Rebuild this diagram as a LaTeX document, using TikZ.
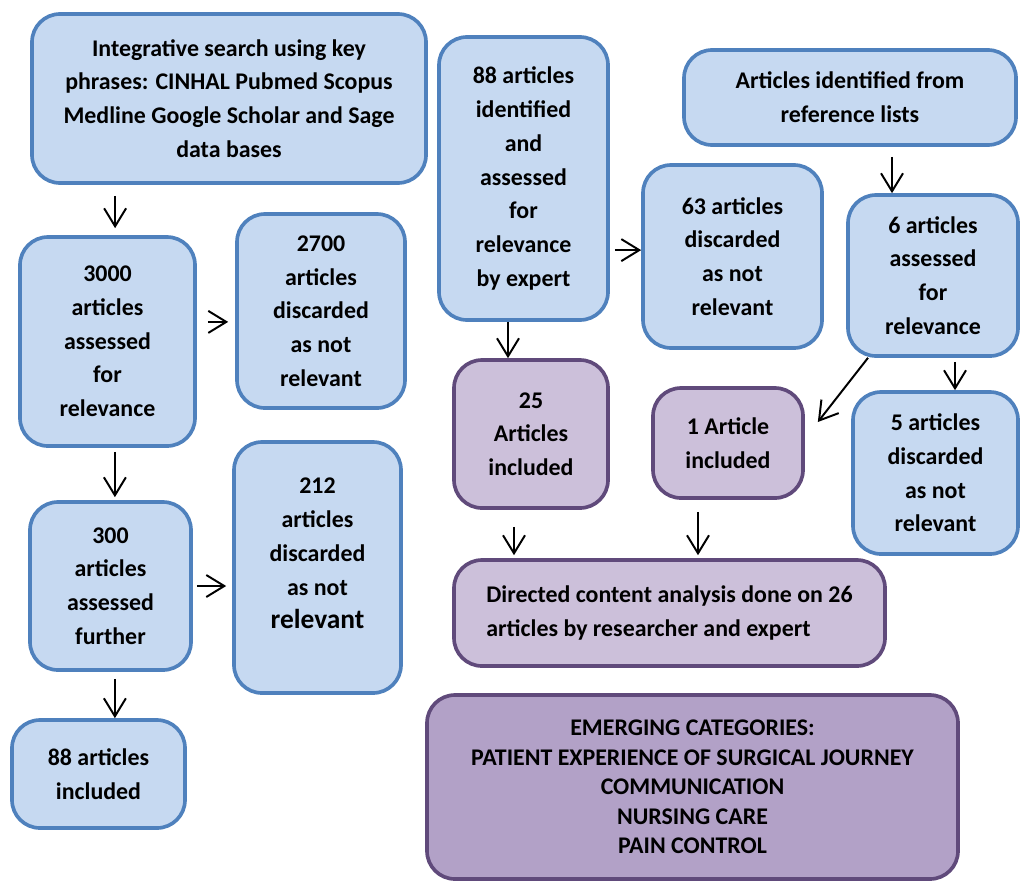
\documentclass[tikz,border=0pt]{standalone}
\usepackage{fontspec}
\setmainfont{Carlito}
\usetikzlibrary{arrows.meta}

\definecolor{boxblue}{HTML}{C6D9F1}
\definecolor{lineblue}{HTML}{4F81BD}
\definecolor{boxlilac}{HTML}{CCC0DA}
\definecolor{boxpurple}{HTML}{B2A1C7}
\definecolor{linepurple}{HTML}{604A7B}

\begin{document}
\begin{tikzpicture}[->,>={Straight Barb[length=4.5mm,width=5.5mm]},line width=1.4pt,
			blue box/.style={draw=lineblue,fill=boxblue,line width=2.6pt,rounded corners=0.7cm,
				align=center,inner sep=0pt,font=\fontsize{17}{24}\selectfont\bfseries},
			lilac box/.style={blue box,draw=linepurple,fill=boxlilac},
			purple box/.style={blue box,draw=linepurple,fill=boxpurple}]
			\useasboundingbox (0,0) rectangle (25.5,-22.05);
			% left column
			\node[blue box,minimum width=9.85cm,minimum height=4.225cm] (search) at (5.725,-2.4625)
				{Integrative search using key\\phrases: CINHAL Pubmed Scopus\\Medline Google Scholar and Sage\\data bases};
			\node[blue box,minimum width=4.375cm,minimum height=5.225cm] (r3000) at (2.6875,-8.5375)
				{3000\\articles\\assessed\\for\\relevance};
			\node[blue box,minimum width=4.2cm,minimum height=4.85cm] (d2700) at (8.025,-7.775)
				{2700\\articles\\discarded\\as not\\relevant};
			\node[blue box,minimum width=4.025cm,minimum height=4.2cm] (r300) at (2.7625,-14.65)
				{300\\articles\\assessed\\further};
			\node[blue box,minimum width=4.175cm,minimum height=6.275cm,text depth=0.7cm] (d212) at (7.9375,-14.1875)
				{212\\articles\\discarded\\as not\\{\fontsize{19.5}{24}\selectfont relevant}};
			\node[blue box,minimum width=4.325cm,minimum height=2.7cm] (inc88) at (2.4625,-19.35)
				{88 articles\\included};
			% right part
			\node[blue box,minimum width=4.225cm,minimum height=7.075cm] (exp88) at (13.0875,-4.4625)
				{88 articles\\identified\\and\\assessed\\for\\relevance\\by expert};
			\node[blue box,minimum width=8.3cm,minimum height=2.375cm] (reflist) at (21.25,-2.4375)
				{Articles identified from\\reference lists};
			\node[blue box,minimum width=4.475cm,minimum height=4.575cm] (d63) at (18.3125,-6.4125)
				{63 articles\\discarded\\as not\\relevant};
			\node[blue box,minimum width=4.25cm,minimum height=4.025cm] (as6) at (23.325,-6.8875)
				{6 articles\\assessed\\for\\relevance};
			\node[lilac box,minimum width=3.85cm,minimum height=3.7cm] (inc25) at (13.275,-10.85)
				{25\\Articles\\included};
			\node[lilac box,minimum width=3.75cm,minimum height=2.75cm] (inc1) at (18.2,-11.075)
				{1 Article\\included};
			\node[blue box,minimum width=4.125cm,minimum height=4.05cm] (d5) at (23.3875,-11.825)
				{5 articles\\discarded\\as not\\relevant};
			\node[lilac box,align=left,minimum width=10.775cm,minimum height=2.65cm] (dca) at (16.7375,-15.325)
				{Directed content analysis done on 26\\articles by researcher and expert};
			\node[purple box,minimum width=13.275cm,minimum height=4.6cm,
				font=\fontsize{17}{21}\selectfont\bfseries] (cats) at (17.3125,-19.675)
				{EMERGING CATEGORIES:\\PATIENT EXPERIENCE OF SURGICAL JOURNEY\\COMMUNICATION\\NURSING CARE\\PAIN CONTROL};
			% arrows
			\draw[shorten <=0.275cm,shorten >=0.175cm] ([xshift=0.19cm]search.south -| r3000.north) -- ([xshift=0.19cm]r3000.north);
			\draw[shorten <=0.275cm,shorten >=0.175cm] ([yshift=0.49cm]r3000.east) -- ([yshift=0.49cm]r3000.east -| d2700.west);
			\draw[shorten <=0.1cm,shorten >=0.075cm] ([xshift=0.11cm]r3000.south -| r300.north) -- ([xshift=0.11cm]r300.north);
			\draw[shorten <=0.1cm,shorten >=0.15cm] (r300.east) -- (r300.east -| d212.west);
			\draw[shorten <=0.175cm] ([xshift=0.41cm]r300.south -| inc88.north) -- ([xshift=0.41cm]inc88.north);
			\draw ([xshift=-0.575cm]exp88.south -| inc25.north) -- ([xshift=-0.575cm]inc25.north);
			\draw[shorten <=0.125cm] ([yshift=-1.79cm]exp88.east) -- ([yshift=-1.79cm]exp88.east -| d63.west);
			\draw[shorten <=0.25cm] ([xshift=-1.025cm]reflist.south -| as6.north) -- ([xshift=-1.025cm]as6.north);
			\draw ([xshift=-1.625cm]as6.south) -- ([xshift=0.325cm,yshift=0.525cm]inc1.east);
			\draw[shorten <=0.1cm] ([xshift=0.55cm]as6.south) -- ([xshift=0.55cm]as6.south |- d5.north);
			\draw[shorten <=0.425cm,shorten >=0.075cm] ([xshift=-0.425cm]inc25.south) -- ([xshift=-0.425cm]inc25.south |- dca.north);
			\draw[shorten <=0.3cm,shorten >=0.075cm] ([xshift=-0.75cm]inc1.south) -- ([xshift=-0.75cm]inc1.south |- dca.north);
		\end{tikzpicture}
\end{document}
